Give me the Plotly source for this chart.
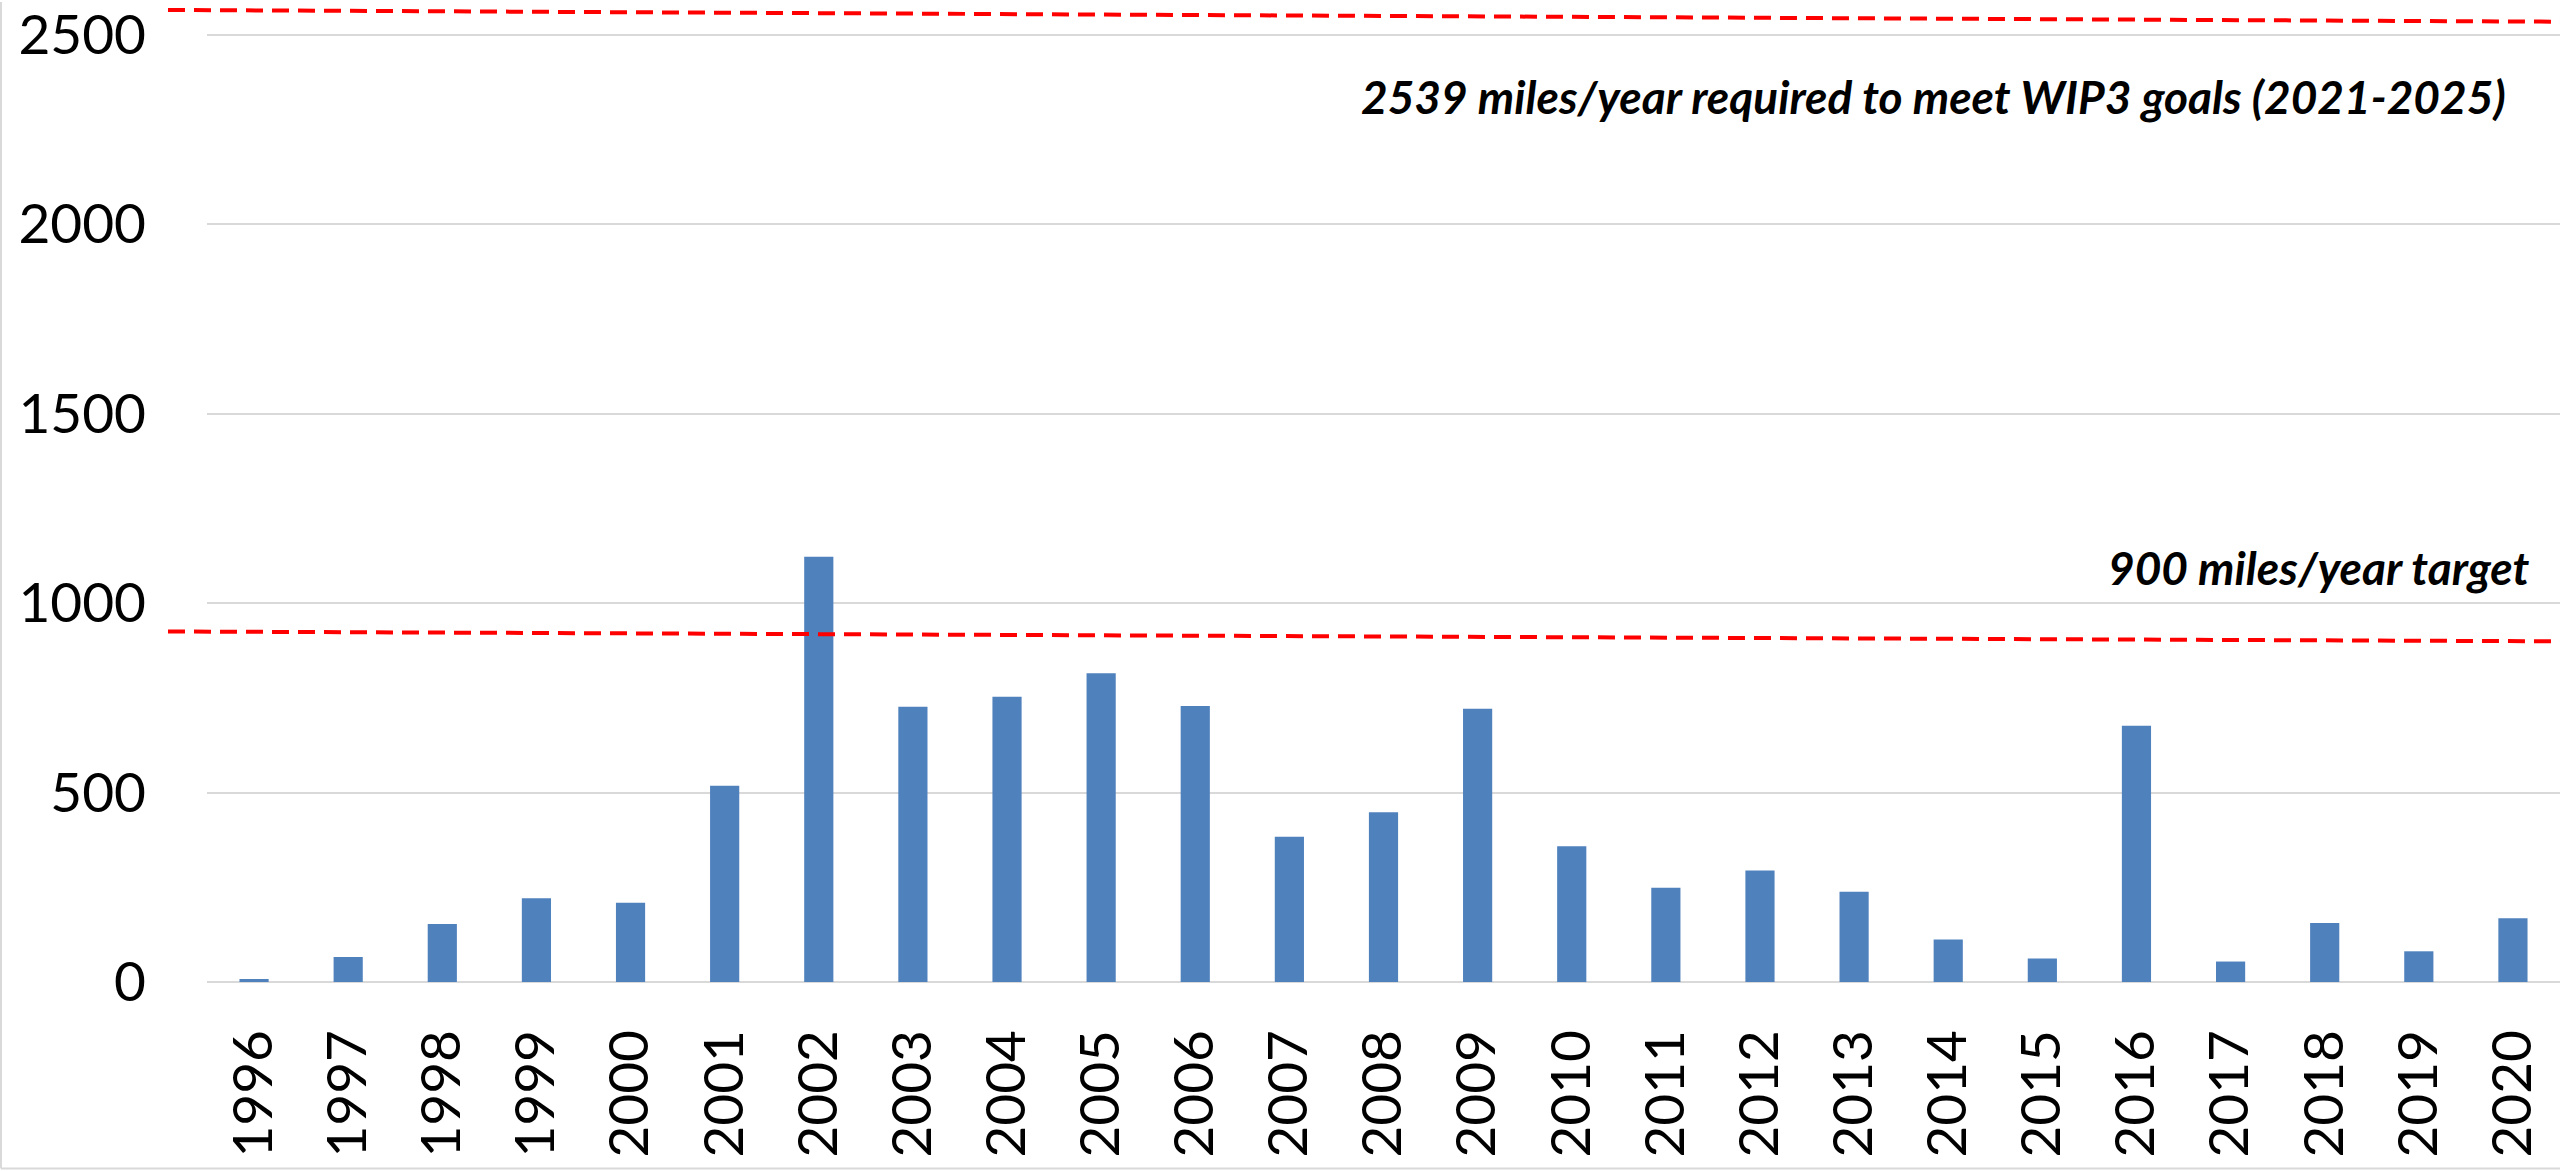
import plotly.graph_objects as go

years = [str(y) for y in range(1996, 2021)]
miles = [8, 66, 153, 221, 209, 518, 1122, 726, 753, 815, 728, 383, 448, 721,
         358, 249, 294, 238, 112, 62, 676, 54, 156, 81, 168]

tick_vals = [0, 500, 1000, 1500, 2000, 2500]
wip3_label = "2539 miles/year required to meet WIP3 goals (2021-2025)"
target_label = "900 miles/year target"
wip3_line = [2565, 2534]     # hand-drawn dashed line, left/right ends
target_line = [925, 899]

W, H = 2560, 1171
L, B = 207, 189
pw = W - L

fig = go.Figure()
fig.add_trace(go.Bar(x=years, y=miles, marker=dict(color="#4F81BD", line=dict(width=0)),
                     width=0.31, showlegend=False, hoverinfo="x+y"))

x_left = (168 - L) / pw
for (y0, y1) in (wip3_line, target_line):
    fig.add_shape(type="line", xref="paper", yref="y", x0=x_left, x1=1.0, y0=y0, y1=y1,
                  line=dict(color="#FF0000", width=4, dash="17px,9px"), layer="above")

# chart border (left & bottom)
fig.add_shape(type="line", xref="paper", yref="paper", x0=-(L - 1) / pw, x1=-(L - 1) / pw,
              y0=-(B - 2) / (H - B), y1=1.0, line=dict(color="#D9D9D9", width=2))
fig.add_shape(type="line", xref="paper", yref="paper", x0=-(L - 1) / pw, x1=1.0,
              y0=-(B - 2) / (H - B), y1=-(B - 2) / (H - B), line=dict(color="#D9D9D9", width=2))

ann_font = dict(family="Lato, Open Sans, sans-serif", size=46, color="#000000",
                weight="bold", style="italic")
fig.add_annotation(text=wip3_label, xref="paper", yref="y", x=(2508 - L) / pw, y=2336,
                   xanchor="right", yanchor="middle", showarrow=False, font=ann_font)
fig.add_annotation(text=target_label, xref="paper", yref="y", x=(2532 - L) / pw, y=1093,
                   xanchor="right", yanchor="middle", showarrow=False, font=ann_font)

fig.update_layout(
    width=W, height=H, autosize=False,
    margin=dict(l=L, r=0, t=0, b=B, pad=0),
    paper_bgcolor="white", plot_bgcolor="white",
    bargap=0.69,
    font=dict(family="Lato, Open Sans, sans-serif", size=55, color="#000000"),
    xaxis=dict(type="category", tickangle=-90, showgrid=False, showline=False,
               ticks="", ticklabelstandoff=36, range=[-0.5, 24.5],
               tickfont=dict(size=55)),
    yaxis=dict(range=[0, 2586], tickvals=tick_vals, showgrid=True, gridcolor="#D9D9D9",
               gridwidth=2, zeroline=True, zerolinecolor="#D9D9D9", zerolinewidth=2,
               showline=False, ticks="", ticklabelstandoff=60, tickfont=dict(size=55),
               ticklabeloverflow="allow"),
)

fig.write_html("out.html", config={"displayModeBar": False},
               post_script="document.body.style.margin='0';")
